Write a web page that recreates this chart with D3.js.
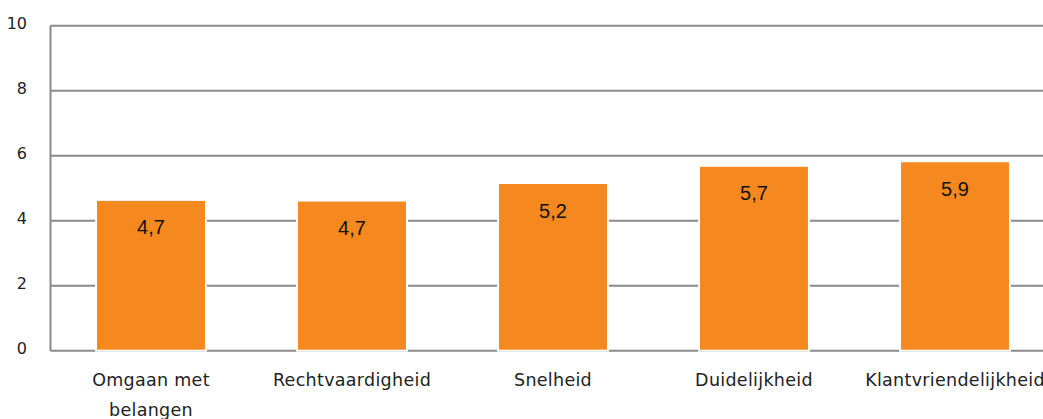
<!DOCTYPE html>
<html><head><meta charset="utf-8">
<script src="https://cdn.jsdelivr.net/npm/d3@7"></script>
<style>body{margin:0;background:#fff}svg{display:block}</style>
</head><body>
<svg id="c" width="1043" height="419"></svg>
<script>
const categories = [["Omgaan met","belangen"],["Rechtvaardigheid"],["Snelheid"],["Duidelijkheid"],["Klantvriendelijkheid"]];
const values = [4.64, 4.62, 5.16, 5.69, 5.83];
const valueLabels = ["4,7","4,7","5,2","5,7","5,9"];
const yTicks = [0,2,4,6,8,10];

const svg = d3.select("#c");
const W = 1043;
const x = d3.scaleBand().domain(d3.range(categories.length)).range([50.5, 1055.5]).paddingInner(0.453).paddingOuter(0.2265);
const y = d3.scaleLinear().domain([0,10]).range([350.7, 25.7]);
const grid = "#8a8a8a";
const axisFont = "'DejaVu Sans', sans-serif";

svg.append("g").selectAll("line").data(yTicks).join("line")
  .attr("x1", 50.5).attr("x2", W).attr("y1", d=>y(d)).attr("y2", d=>y(d))
  .attr("stroke", grid).attr("stroke-width", 2);
svg.append("line").attr("x1",50.5).attr("x2",50.5).attr("y1",y(10)).attr("y2",y(0))
  .attr("stroke", grid).attr("stroke-width", 2);

svg.append("g").selectAll("text").data(yTicks).join("text")
  .attr("x", 27).attr("y", d=>y(d)-2.5).attr("text-anchor","end").attr("dominant-baseline","central")
  .attr("font-family", axisFont).attr("font-size", 16).attr("fill","#222").text(d=>d);

svg.append("g").selectAll("rect").data(values).join("rect")
  .attr("x",(d,i)=>x(i)).attr("width",x.bandwidth())
  .attr("y",d=>y(d)).attr("height",d=>y(0)-y(d))
  .attr("fill","#F5891F").attr("stroke","#fff").attr("stroke-width",2);

svg.append("g").selectAll("text").data(values).join("text")
  .attr("x",(d,i)=>x(i)+x.bandwidth()/2).attr("y",d=>y(d)+27.5)
  .attr("text-anchor","middle").attr("dominant-baseline","central")
  .attr("font-family","'Liberation Sans', Arial, sans-serif").attr("font-size",20).attr("fill","#111")
  .text((d,i)=>valueLabels[i]);

const cat = svg.append("g").selectAll("text").data(categories).join("text")
  .attr("text-anchor","middle").attr("font-family",axisFont).attr("font-size",17.5)
  .attr("letter-spacing",0.3).attr("fill","#222");
cat.each(function(lines,i){
  const t = d3.select(this);
  lines.forEach((l,j)=>{
    t.append("tspan").attr("x", x(i)+x.bandwidth()/2).attr("y", 380+30*j).attr("dominant-baseline","central").text(l);
  });
});
</script>
</body></html>
